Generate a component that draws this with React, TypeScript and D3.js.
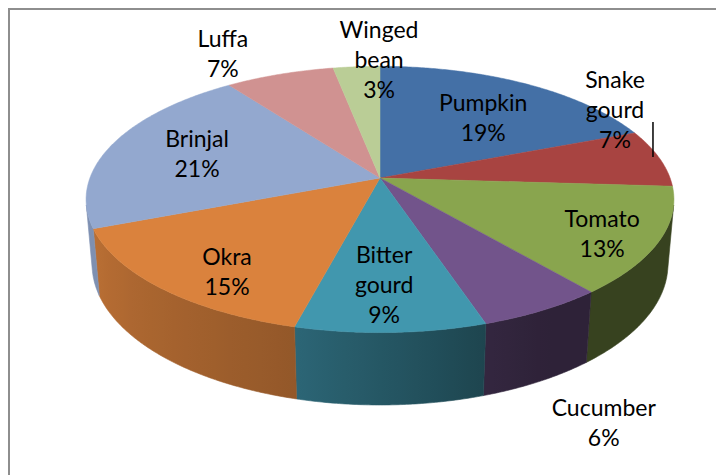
import React, { useEffect, useRef } from "react";
import * as d3 from "d3";

// vegetable share (%)
const categories = [
  "Pumpkin",
  "Snake gourd",
  "Tomato",
  "Cucumber",
  "Bitter gourd",
  "Okra",
  "Brinjal",
  "Luffa",
  "Winged bean",
];
const shares = [19, 7, 13, 6, 9, 15, 21, 7, 3];
const sliceColors = [
  "#4470a6",
  "#a84441",
  "#89a54e",
  "#72548b",
  "#4197ae",
  "#da823d",
  "#93a8cf",
  "#d09291",
  "#bacd96",
];
// where Excel put each label: radius (1 = rim) and turn from slice middle (deg)
const labelRadius = [0.64, 1.06, 0.82, 1.56, 0.72, 0.8, 0.68, 1.31, 1.08];
const labelTurn = [2.8, -24.3, 2.1, 6.5, 0.8, -5.2, 0.7, -5.9, 5.2];

const W = 716;
const H = 475;

// perspective camera for the tilted disc
const cx = 380;
const cy = 178;
const focal = 1610;
const dist = 5.55;
const sinT = 0.447;
const cosT = 0.894;
const thick = 0.252;

const project = (u: number, v: number, w: number): [number, number] => {
  const depth = dist + v * cosT - w * sinT;
  return [cx + (focal * u) / depth, cy - (focal * (v * sinT + w * cosT)) / depth];
};
const rim = (t: number, w: number) => project(Math.sin(t), Math.cos(t), w);

const App = () => {
  const ref = useRef<SVGSVGElement>(null);

  useEffect(() => {
    const svg = d3.select(ref.current);
    svg.selectAll("*").remove();

    const pie = d3.pie<number>().sort(null).value((d) => d);
    const arcs = pie(shares);
    const line = d3.line();
    const step = Math.PI / 360;
    const samples = (a: number, b: number) => {
      const n = Math.max(2, Math.ceil((b - a) / step));
      return d3.range(n + 1).map((i) => a + ((b - a) * i) / n);
    };

    // frame
    svg
      .append("rect")
      .attr("x", 9)
      .attr("y", 9)
      .attr("width", W)
      .attr("height", H)
      .attr("fill", "none")
      .attr("stroke", "#8e8e8e")
      .attr("stroke-width", 2);

    const shade = d3
      .scaleLinear()
      .domain([150, 163, 195, 250])
      .range([0.4, 0.46, 0.68, 0.86])
      .clamp(true);
    const tint = (c: string, k: number) => {
      const r = d3.rgb(c);
      return d3.rgb(r.r * k, r.g * k, r.b * k).formatHex();
    };

    // outer wall, only the part that faces the camera
    const visLo = Math.acos(-1 / (dist * cosT));
    const visHi = 2 * Math.PI - visLo;
    const defs = svg.append("defs");
    const walls = svg.append("g");
    arcs.forEach((d, i) => {
      const a = Math.max(d.startAngle, visLo);
      const b = Math.min(d.endAngle, visHi);
      if (a >= b) return;
      const ts = samples(a, b);
      const top = ts.map((t) => rim(t, 0));
      const bot = ts.map((t) => rim(t, -thick)).reverse();
      const xa = top[0][0];
      const xb = top[top.length - 1][0];
      const grad = defs
        .append("linearGradient")
        .attr("id", `wall${i}`)
        .attr("gradientUnits", "userSpaceOnUse")
        .attr("x1", xa)
        .attr("x2", xb)
        .attr("y1", 0)
        .attr("y2", 0);
      samples(a, b)
        .filter((_, j) => j % 6 === 0 || j === ts.length - 1)
        .forEach((t) => {
          grad
            .append("stop")
            .attr("offset", (xa - rim(t, 0)[0]) / (xa - xb || 1))
            .attr("stop-color", tint(sliceColors[i], shade((t * 180) / Math.PI)));
        });
      walls
        .append("path")
        .attr("d", line([...top, ...bot]) + "Z")
        .attr("fill", `url(#wall${i})`)
        .attr("stroke", `url(#wall${i})`)
        .attr("stroke-width", 0.6);
    });

    // top faces
    svg
      .append("g")
      .selectAll("path")
      .data(arcs)
      .enter()
      .append("path")
      .attr("d", (d) => {
        const pts = samples(d.startAngle, d.endAngle).map((t) => rim(t, 0));
        return line([[cx, cy], ...pts]) + "Z";
      })
      .attr("fill", (d, i) => sliceColors[i])
      .attr("stroke", (d, i) => sliceColors[i])
      .attr("stroke-width", 0.5);

    // data labels
    const labels = svg
      .append("g")
      .attr("font-family", "Lato, 'Open Sans', sans-serif")
      .attr("font-size", 23)
      .attr("fill", "#000")
      .attr("text-anchor", "middle");
    arcs.forEach((d, i) => {
      const t = (d.startAngle + d.endAngle) / 2 + (labelTurn[i] * Math.PI) / 180;
      const r = labelRadius[i];
      const [lx, ly] = project(r * Math.sin(t), r * Math.cos(t), 0);
      const lines = [...categories[i].split(" "), `${shares[i]}%`];
      lines.forEach((txt, j) => {
        labels
          .append("text")
          .attr("x", lx)
          .attr("y", ly + (j - (lines.length - 1) / 2) * 30)
          .attr("dominant-baseline", "central")
          .text(txt);
      });
      if (categories[i] === "Snake gourd") {
        labels
          .append("line")
          .attr("x1", lx + 38)
          .attr("x2", lx + 38)
          .attr("y1", ly + 13)
          .attr("y2", ly + 48)
          .attr("stroke", "#000")
          .attr("stroke-width", 1.5);
      }
    });
  }, []);

  return (
    <svg
      ref={ref}
      width={W}
      height={H}
      style={{ position: "absolute", left: 0, top: 0, background: "#fff" }}
    />
  );
};

export default App;
